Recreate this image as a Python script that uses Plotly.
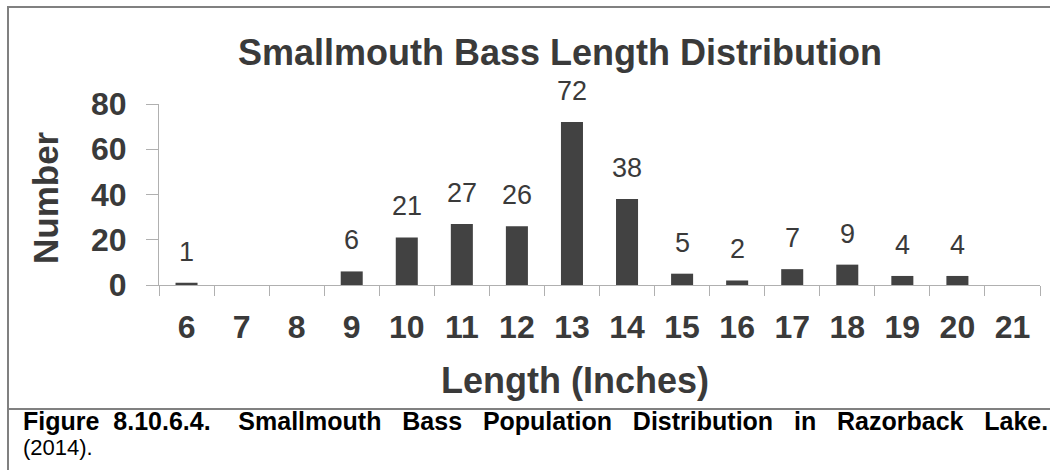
import plotly.graph_objects as go

lengths = ["6", "7", "8", "9", "10", "11", "12", "13", "14", "15", "16", "17", "18", "19", "20", "21"]
counts = [1, 0, 0, 6, 21, 27, 26, 72, 38, 5, 2, 7, 9, 4, 4, 0]
labels = ["1", "", "", "6", "21", "27", "26", "72", "38", "5", "2", "7", "9", "4", "4", ""]
y_ticks = [0, 20, 40, 60, 80]

chart_title = "Smallmouth Bass Length Distribution"
x_title = "Length (Inches)"
y_title = "Number"
caption_words = ["Figure", "8.10.6.4.", "Smallmouth", "Bass", "Population", "Distribution", "in", "Razorback", "Lake."]
caption_gaps = [2, 4, 3, 3, 3, 3, 3, 3]
caption_rest = "(2014)."

W, H = 1050, 470
L, R, T, B = 159, 1040, 104, 285
FONT = "Liberation Sans, Arial, sans-serif"
TXT = "#3a3a3a"


def px(x):
    return (x - L) / (R - L)


def py(y):
    return (B - y) / (B - T)


caption_text = caption_words[0]
for g, w in zip(caption_gaps, caption_words[1:]):
    caption_text += "&nbsp;" * g + w

fig = go.Figure()
fig.add_trace(go.Bar(
    x=lengths, y=counts,
    marker=dict(color="#424242", line=dict(width=0)),
    width=0.4,
    hoverinfo="x+y",
))

annotations = []
for i, (v, t) in enumerate(zip(counts, labels)):
    if t:
        annotations.append(dict(
            x=i, y=v, xref="x", yref="y", text=t, showarrow=False,
            yanchor="middle", yshift=31,
            font=dict(family=FONT, size=27, color=TXT),
        ))

annotations += [
    dict(x=px(560), y=py(52), xref="paper", yref="paper", text="<b>" + chart_title + "</b>",
         showarrow=False, xanchor="center", yanchor="middle",
         font=dict(family=FONT, size=36, color=TXT)),
    dict(x=px(575), y=py(380), xref="paper", yref="paper", text="<b>" + x_title + "</b>",
         showarrow=False, xanchor="center", yanchor="middle",
         font=dict(family=FONT, size=36, color=TXT)),
    dict(x=px(45), y=py(198), xref="paper", yref="paper", text="<b>" + y_title + "</b>",
         showarrow=False, xanchor="center", yanchor="middle", textangle=-90,
         font=dict(family=FONT, size=35, color=TXT)),
    dict(x=px(21), y=py(421), xref="paper", yref="paper", text="<b>" + caption_text + "</b>",
         showarrow=False, xanchor="left", yanchor="middle",
         font=dict(family=FONT, size=25, color="#000000")),
    dict(x=px(21), y=py(447), xref="paper", yref="paper", text=caption_rest,
         showarrow=False, xanchor="left", yanchor="middle",
         font=dict(family=FONT, size=22, color="#000000")),
]

frame_color = "#808080"
shapes = [
    dict(type="line", xref="paper", yref="paper", x0=px(8), x1=px(1052), y0=py(7), y1=py(7),
         line=dict(color=frame_color, width=2)),
    dict(type="line", xref="paper", yref="paper", x0=px(8), x1=px(8), y0=py(6), y1=py(472),
         line=dict(color=frame_color, width=2)),
    dict(type="line", xref="paper", yref="paper", x0=px(8), x1=px(1052), y0=py(409), y1=py(409),
         line=dict(color=frame_color, width=2)),
]

fig.update_layout(
    width=W, height=H,
    margin=dict(l=L, r=W - R, t=T, b=H - B, pad=0),
    paper_bgcolor="white", plot_bgcolor="white",
    showlegend=False,
    bargap=0.6,
    annotations=annotations,
    shapes=shapes,
    font=dict(family=FONT, color=TXT),
)
fig.update_xaxes(
    type="category", automargin=False,
    tickmode="array", tickvals=lengths, ticktext=[f"<b>{c}</b>" for c in lengths],
    tickson="boundaries", ticks="outside", ticklen=10, tickcolor="#b0b0b0", tickwidth=1,
    showline=True, linecolor="#b0b0b0", linewidth=1,
    showgrid=False, zeroline=False,
    tickfont=dict(family=FONT, size=32, color=TXT),
    ticklabelstandoff=14,
    range=[-0.5, len(lengths) - 0.5],
)
fig.update_yaxes(
    range=[0, 80], automargin=False,
    tickmode="array", tickvals=y_ticks, ticktext=[f"<b>{v}</b>" for v in y_ticks],
    ticks="outside", ticklen=12, tickcolor="#b0b0b0", tickwidth=1,
    showline=True, linecolor="#b0b0b0", linewidth=1,
    showgrid=False, zeroline=False,
    tickfont=dict(family=FONT, size=32, color=TXT),
    ticklabelstandoff=13,
)

fig.write_html("out.html", config={"displayModeBar": False},
               post_script="document.body.style.margin='0';")
